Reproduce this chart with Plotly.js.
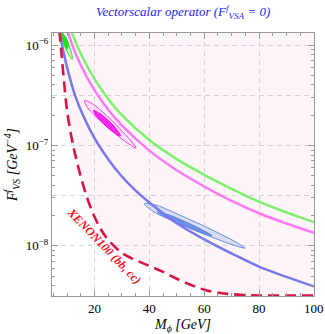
<!DOCTYPE html>
<html>
<head>
<meta charset="utf-8">
<script src="https://cdn.plot.ly/plotly-3.0.1.min.js"></script>
<style>html,body{margin:0;padding:0;background:#fff;}#chart{width:325px;height:334px;}</style>
</head>
<body>
<div id="chart"></div>
<script>
// Main lines (M_phi in GeV, F in GeV^-4)
const greenM = [11.7, 12, 15, 20, 25, 30, 40, 50, 60, 70, 80, 90, 100];
const greenF = [1.35e-6, 1.28e-6, 8.2e-7, 4.6e-7, 2.9e-7, 2.0e-7, 1.13e-7, 7.3e-8, 5.1e-8, 3.7e-8, 2.75e-8, 2.15e-8, 1.72e-8];

const magentaM = [10.3, 12, 15, 20, 25, 30, 40, 50, 60, 70, 80, 90, 100];
const magentaF = [1.38e-6, 9.8e-7, 6.3e-7, 3.55e-7, 2.27e-7, 1.58e-7, 8.87e-8, 5.65e-8, 3.9e-8, 2.8e-8, 2.11e-8, 1.67e-8, 1.35e-8];

const blueM = [7.1, 8, 10, 13, 16, 20, 25, 30, 35, 40, 50, 60, 70, 80, 90, 100];
const blueF = [1.4e-6, 1.05e-6, 6.0e-7, 3.1e-7, 1.95e-7, 1.18e-7, 7.3e-8, 4.9e-8, 3.55e-8, 2.7e-8, 1.68e-8, 1.16e-8, 8.4e-9, 6.2e-9, 4.9e-9, 3.94e-9];

// XENON100 (bb, cc) bound
const xenonM = [7.2, 8, 9, 10, 11.5, 13, 15, 17.5, 20, 22.5, 25, 30, 35, 40, 45, 50, 55, 60, 65, 70, 75, 80, 90, 100];
const xenonF = [1.4e-6, 8.0e-7, 4.0e-7, 2.2e-7, 1.25e-7, 8.0e-8, 4.9e-8, 2.9e-8, 1.95e-8, 1.43e-8, 1.15e-8, 8.5e-9, 7.2e-9, 6.3e-9, 5.5e-9, 4.7e-9, 4.1e-9, 3.65e-9, 3.4e-9, 3.3e-9, 3.22e-9, 3.2e-9, 3.2e-9, 3.2e-9];
const xenonTopF = 2e-6;

// Contour regions (closed outlines)
const greenOuterM = [8.07, 9.71, 10.80, 11.67, 11.89, 10.65, 9.35, 8.25, 8.07];
const greenOuterF = [1.33e-6, 1.17e-6, 9.80e-7, 8.21e-7, 7.21e-7, 7.98e-7, 9.44e-7, 1.12e-6, 1.33e-6];
const greenInnerM = [8.18, 9.56, 10.36, 10.0, 8.91, 8.18, 8.18];
const greenInnerF = [1.31e-6, 1.17e-6, 9.77e-7, 9.12e-7, 1.05e-6, 1.20e-6, 1.31e-6];

const magOuterM = [16.36, 18.98, 22.04, 26.73, 31.13, 33.67, 35.16, 32.87, 29.75, 24.84, 20.07, 17.53, 16.36];
const magOuterF = [2.79e-7, 2.63e-7, 2.27e-7, 1.73e-7, 1.29e-7, 1.08e-7, 9.37e-8, 1.02e-7, 1.17e-7, 1.52e-7, 1.99e-7, 2.38e-7, 2.79e-7];
const magInnerM = [19.64, 22.15, 25.24, 28.0, 29.45, 26.98, 23.85, 21.05, 19.64];
const magInnerF = [2.23e-7, 2.06e-7, 1.75e-7, 1.45e-7, 1.24e-7, 1.35e-7, 1.59e-7, 1.91e-7, 2.23e-7];

const blueOuterM = [38.18, 42.36, 47.96, 57.09, 66.18, 71.53, 74.91, 70.95, 65.27, 56.0, 46.76, 41.35, 38.18];
const blueOuterF = [2.62e-8, 2.55e-8, 2.21e-8, 1.71e-8, 1.30e-8, 1.09e-8, 9.48e-9, 1.01e-8, 1.15e-8, 1.45e-8, 1.86e-8, 2.20e-8, 2.62e-8];
const blueInnerM = [42.91, 47.16, 53.24, 59.13, 62.91, 58.69, 52.58, 46.65, 42.91];
const blueInnerF = [2.18e-8, 2.03e-8, 1.73e-8, 1.45e-8, 1.26e-8, 1.36e-8, 1.58e-8, 1.88e-8, 2.18e-8];

// Axes
const xTicks = [20, 40, 60, 80, 100];
const xMinorTicks = [5, 10, 15, 25, 30, 35, 45, 50, 55, 65, 70, 75, 85, 90, 95];
const yTicks = [1e-8, 1e-7, 1e-6];
const yTickText = ['10<sup>\u22128</sup>', '10<sup>\u22127</sup>', '10<sup>\u22126</sup>'];
const yMinorTicks = [4e-9,5e-9,6e-9,7e-9,8e-9,9e-9,2e-8,3e-8,4e-8,5e-8,6e-8,7e-8,8e-8,9e-8,2e-7,3e-7,4e-7,5e-7,6e-7,7e-7,8e-7,9e-7];
const yGridVals = [3.162e-9, 1e-8, 3.162e-8, 1e-7, 3.162e-7, 1e-6];

const xRange = [4.5, 100.05];
const yRange = [-8.5, -5.88];

const serif = 'Liberation Serif, Times New Roman, serif';

const traces = [
  { x: xenonM.concat([100.05, 100.05, xenonM[0]]), y: xenonF.concat([xenonF[xenonF.length - 1], xenonTopF, xenonTopF]),
    mode: 'lines', fill: 'toself', fillcolor: 'rgba(235,160,175,0.1)', line: {width: 0}, hoverinfo: 'skip' },
  { x: blueOuterM, y: blueOuterF, mode: 'lines', fill: 'toself', fillcolor: 'rgba(190,205,240,0.6)',
    line: {color: 'rgb(105,140,225)', width: 1, shape: 'spline'} },
  { x: blueInnerM, y: blueInnerF, mode: 'lines', fill: 'toself', fillcolor: 'rgb(110,143,228)',
    line: {color: 'rgb(95,130,225)', width: 1, shape: 'spline'} },
  { x: magOuterM, y: magOuterF, mode: 'lines', fill: 'toself', fillcolor: 'rgba(255,190,250,0.35)',
    line: {color: 'rgb(240,60,240)', width: 1, shape: 'spline'} },
  { x: magInnerM, y: magInnerF, mode: 'lines', fill: 'toself', fillcolor: 'rgb(250,40,240)',
    line: {color: 'rgb(240,0,235)', width: 1, shape: 'spline'} },
  { x: greenOuterM, y: greenOuterF, mode: 'lines', fill: 'toself', fillcolor: 'rgba(170,245,170,0.4)',
    line: {color: 'rgb(40,220,40)', width: 1, shape: 'spline'} },
  { x: greenInnerM, y: greenInnerF, mode: 'lines', fill: 'toself', fillcolor: 'rgb(30,230,30)',
    line: {color: 'rgb(20,220,20)', width: 1, shape: 'spline'} },
  { x: greenM, y: greenF, mode: 'lines', line: {color: 'rgb(125,240,110)', width: 2.5, shape: 'spline'} },
  { x: magentaM, y: magentaF, mode: 'lines', line: {color: 'rgb(255,120,245)', width: 2.5, shape: 'spline'} },
  { x: blueM, y: blueF, mode: 'lines', line: {color: 'rgb(120,120,238)', width: 2.5, shape: 'spline'} },
  { x: xenonM, y: xenonF, mode: 'lines', line: {color: 'rgb(220,20,70)', width: 2.6, dash: '11px,6px', shape: 'spline'} },
  { x: [], y: [], yaxis: 'y2', mode: 'lines', hoverinfo: 'skip' }
];

const layout = {
  width: 325, height: 334,
  margin: {l: 52, r: 11, t: 33, b: 38},
  paper_bgcolor: '#ffffff', plot_bgcolor: '#ffffff',
  showlegend: false,
  xaxis: {
    range: xRange, tickmode: 'array', tickvals: xTicks, ticktext: xTicks.map(String),
    ticks: 'inside', ticklen: 6, tickcolor: '#999', mirror: 'ticks',
    showline: true, linecolor: '#999', linewidth: 1, zeroline: false,
    showgrid: true, gridcolor: 'rgb(215,215,215)', griddash: '5px,4px', gridwidth: 1,
    ticklabeloverflow: 'allow',
    tickfont: {family: serif, size: 13, color: '#000'},
    minor: {tickmode: 'array', tickvals: xMinorTicks, ticks: 'inside', ticklen: 3, tickcolor: '#999', showgrid: false},
    title: {text: 'M<sub>\u03d5</sub> [GeV]', font: {family: serif, size: 14, color: '#000', style: 'italic'}, standoff: 6}
  },
  yaxis: {
    type: 'log', range: yRange, tickmode: 'array', tickvals: yTicks, ticktext: yTickText,
    ticks: 'inside', ticklen: 6, tickcolor: '#999', mirror: 'ticks',
    showline: true, linecolor: '#999', linewidth: 1, zeroline: false, showgrid: false,
    tickfont: {family: serif, size: 13, color: '#000'},
    minor: {tickmode: 'array', tickvals: yMinorTicks, ticks: 'inside', ticklen: 3, tickcolor: '#999', showgrid: false},
    title: {text: 'F<sup>f</sup><sub>VS</sub> [GeV<sup>\u22124</sup>]', font: {family: serif, size: 14, color: '#000', style: 'italic'}, standoff: 4}
  },
  yaxis2: {
    type: 'log', range: yRange, overlaying: 'y', side: 'left', tickmode: 'array', tickvals: yGridVals,
    showticklabels: false, ticks: '', showline: false, zeroline: false,
    showgrid: true, gridcolor: 'rgb(215,215,215)', griddash: '5px,4px', gridwidth: 1
  },
  annotations: [
    {
      x: 0.5, y: 1.08, xref: 'paper', yref: 'paper', xanchor: 'center', yanchor: 'middle', showarrow: false,
      text: 'Vectorscalar operator (F<sup>f</sup><sub>VSA</sub> = 0)',
      font: {family: serif, size: 13, color: 'rgb(35,35,245)', style: 'italic'}
    },
    {
      x: 23.6, y: -8.0, xref: 'x', yref: 'y', showarrow: false, textangle: 46,
      text: 'XENON100 (bb, cc)',
      font: {family: serif, size: 12, color: 'rgb(240,20,30)', weight: 'bold', style: 'italic'}
    }
  ]
};

Plotly.newPlot('chart', traces, layout, {displayModeBar: false, staticPlot: true});
</script>
</body>
</html>
